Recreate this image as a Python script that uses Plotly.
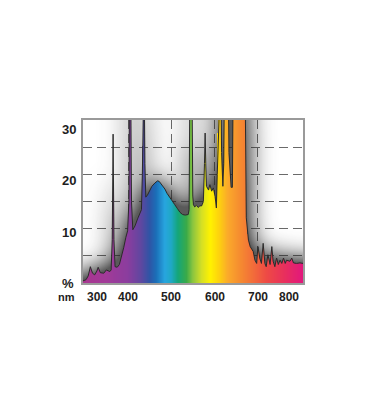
import numpy as np
import plotly.graph_objects as go

# ---- data (wavelength nm, relative intensity %) ----
wavelength = [296, 303, 308, 313, 318, 323, 328, 331, 336, 344, 350, 358, 361, 363.5, 365.5, 367.5, 370,
              375, 380, 385, 390, 395, 399, 402, 403.5, 406, 408, 411, 416, 422, 428, 431, 433, 434.5,
              437, 439, 441, 445, 450, 455, 462, 468, 472, 476, 480, 485, 490, 497, 503, 508, 514, 520,
              526, 532, 539, 541, 543, 547.5, 549.5, 551, 554, 558, 562, 566, 570, 574, 576.5, 578,
              579.5, 581, 586, 589, 593, 597, 601, 604, 606, 607.5, 614, 616, 619, 621, 623, 631, 633,
              638, 641, 643, 666, 670, 673, 675, 678, 682, 686, 689, 693, 697, 700, 704, 708, 712, 716,
              719, 723, 728, 732, 735, 739, 743, 747, 751, 755, 759, 763, 766, 774, 778, 782, 789, 797, 804]
intensity = [0.4, 0.6, 1.3, 3.0, 1.8, 1.5, 2.2, 2.9, 1.9, 1.8, 2.4, 2.1, 2.4, 8.0, 27.4, 8.0, 3.0,
             2.9, 3.4, 4.8, 6.5, 8.4, 9.6, 15.0, 40, 40, 15.0, 9.8, 10.5, 11.8, 12.8, 13.5, 20.0, 40,
             40, 22.0, 15.8, 16.2, 17.0, 17.8, 18.4, 18.8, 18.7, 18.3, 17.9, 17.3, 16.5, 15.6, 15.0, 14.4, 13.7, 13.0,
             12.6, 12.5, 12.6, 13.5, 40, 40, 16.0, 14.4, 14.0, 14.3, 13.9, 14.2, 14.2, 15.0, 22.0, 27.6,
             22.0, 17.8, 17.1, 18.1, 16.9, 17.5, 15.9, 13.8, 20.0, 40, 40, 24.0, 17.8, 22.0, 40, 40, 24.0,
             17.6, 17.6, 40, 40, 40, 12.0, 9.5, 7.9, 6.7, 6.1, 5.8, 4.2, 3.6, 6.7, 4.6, 3.6, 7.3, 3.6,
             3.0, 5.2, 3.4, 6.7, 4.0, 3.0, 4.6, 3.4, 4.2, 3.6, 4.6, 3.6, 4.2, 4.0, 4.6, 3.7, 3.6, 3.7, 3.6]

x_tick_values = [300, 400, 500, 600, 700, 800]
x_tick_labels = ["300", "400", "500", "600", "700", "800"]
y_tick_values = [30, 20, 10, 0]
y_tick_labels = ["30", "20", "10", "%"]

# ---- style ----
X0, X1 = 296, 804
Y0, Y1 = 0, 30
rainbow_nm = [296, 350, 400, 430, 450, 465, 485, 500, 515, 535, 550, 570, 590, 610, 630, 660, 690, 720, 760, 804]
rainbow_col = ["#a8358f", "#a13a98", "#8a3d9e", "#5f47a0", "#2e55a6", "#1b6fb8", "#27a5df", "#1fa8c4",
               "#14a67a", "#3aaa48", "#8dc63f", "#d5df25", "#fff200", "#fdd20e", "#fbaa2a", "#f58a30",
               "#f26b3a", "#ee4a45", "#e8305c", "#e2177d"]
FONT = "Liberation Sans Narrow, Liberation Sans, Arial, sans-serif"

# page body has an 8px default margin -> compensate
ML, MT, MR, MB = 75, 112, 65, 129
W, H = 360, 404
nx, ny = W - ML - MR, H - MT - MB

# ---- raster of rainbow fill + soft shadow, computed from the curve ----
P = 45
cols = np.arange(-P, nx + P) + 0.5
rows = np.arange(-P, ny + P) + 0.5
col_nm = X0 + cols * (X1 - X0) / nx
row_val = Y0 + rows * (Y1 - Y0) / ny
curve = np.interp(col_nm, wavelength, intensity)
mask = (row_val[:, None] < curve[None, :]).astype(float)

sig = 11.0
t = np.arange(-int(3 * sig), int(3 * sig) + 1)
kern = np.exp(-0.5 * (t / sig) ** 2)
kern /= kern.sum()
blur = np.apply_along_axis(lambda r: np.convolve(r, kern, mode="same"), 1, mask)
blur = np.apply_along_axis(lambda c: np.convolve(c, kern, mode="same"), 0, blur)

m = mask[P:P + ny, P:P + nx]
b = blur[P:P + ny, P:P + nx]
cx = col_nm[P:P + nx]
ry = row_val[P:P + ny]
alpha = np.clip(1.2 * b ** 0.8, 0, 0.75)
z = np.where(m > 0, 0.5 + 0.5 * (cx[None, :] - X0) / (X1 - X0), 0.4999 * alpha)

cscale = [[0.0, "rgba(35,35,35,0)"], [0.4999, "rgba(35,35,35,1)"]]
for nm_, c_ in zip(rainbow_nm, rainbow_col):
    cscale.append([0.5 + 0.5 * (nm_ - X0) / (X1 - X0), c_])

fig = go.Figure()
fig.add_trace(go.Heatmap(x=cx, y=ry, z=z, zmin=0, zmax=1, zauto=False, colorscale=cscale,
                         zsmooth=False, showscale=False, hoverinfo="skip"))
fig.add_trace(go.Scatter(x=wavelength, y=intensity, mode="lines",
                         line=dict(color="#2b2b2b", width=1), hoverinfo="skip", showlegend=False))

ann = []
yshift = {30: -9, 20: -6, 10: -4, 0: 0}
for v, lab in zip(y_tick_values, y_tick_labels):
    ann.append(dict(x=0, xref="paper", y=v, yref="y", text=lab, showarrow=False,
                    xanchor="right", yanchor="middle", xshift=-5 if lab != "%" else -7, yshift=yshift[v],
                    font=dict(family=FONT, size=13, color="#1e1e1e", weight="bold")))
for v, lab in zip(x_tick_values, x_tick_labels):
    xa = "left" if v == x_tick_values[0] else ("right" if v == x_tick_values[-1] else "center")
    ann.append(dict(x=v, xref="x", y=0, yref="paper", text=lab, showarrow=False,
                    xanchor=xa, yanchor="middle", yshift=-14,
                    font=dict(family=FONT, size=12, color="#1e1e1e", weight="bold")))
ann.append(dict(x=0, xref="paper", y=0, yref="paper", text="nm", showarrow=False,
                xanchor="right", yanchor="middle", xshift=-6, yshift=-14,
                font=dict(family=FONT, size=11, color="#1e1e1e", weight="bold")))

fig.update_layout(
    width=W, height=H, margin=dict(l=ML, r=MR, t=MT, b=MB),
    paper_bgcolor="white", plot_bgcolor="white", showlegend=False,
    annotations=ann,
    xaxis=dict(range=[X0, X1], tickvals=[400, 500, 600, 700], showticklabels=False, ticks="",
               showgrid=True, gridcolor="#6a6a6a", gridwidth=1, griddash="9px,5px",
               showline=True, mirror=True, linecolor="#9a9a9a", linewidth=2, zeroline=False),
    yaxis=dict(range=[Y0, Y1], tickvals=[5, 10, 15, 20, 25], showticklabels=False, ticks="",
               showgrid=True, gridcolor="#6a6a6a", gridwidth=1, griddash="9px,5px",
               showline=True, mirror=True, linecolor="#9a9a9a", linewidth=2, zeroline=False),
)
fig.write_html("out.html")
